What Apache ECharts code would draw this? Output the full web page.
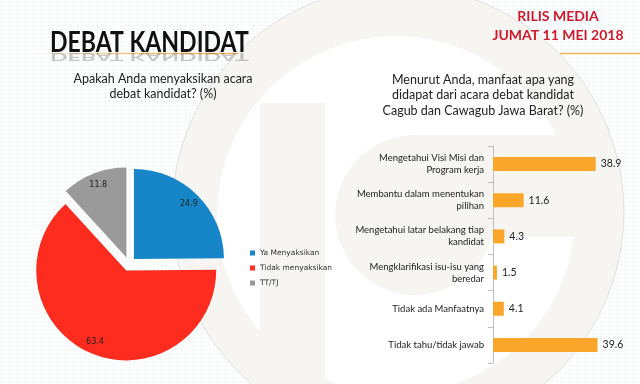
<!DOCTYPE html>
<html><head><meta charset="utf-8">
<script src="https://cdn.jsdelivr.net/npm/echarts@6/dist/echarts.min.js"></script>
<style>html,body{margin:0;padding:0;background:#fff;}#c{width:640px;height:384px;}</style>
</head><body><div id="c"></div>
<script>
// ---- data ----
const pieNames = ['Ya Menyaksikan', 'Tidak menyaksikan', 'TT/TJ'];
const pieValues = [24.9, 63.4, 11.8];
const barCategories = [
  'Mengetahui Visi Misi dan\nProgram kerja',
  'Membantu dalam menentukan\npilihan',
  'Mengetahui latar belakang tiap\nkandidat',
  'Mengklarifikasi isu-isu yang\nberedar',
  'Tidak ada Manfaatnya',
  'Tidak tahu/tidak jawab'
];
const barValues = [38.9, 11.6, 4.3, 1.5, 4.1, 39.6];
const mainTitle = 'DEBAT KANDIDAT';
const releaseText = 'RILIS MEDIA\nJUMAT 11 MEI 2018';
const pieQuestion = 'Apakah Anda menyaksikan acara\ndebat kandidat? (%)';
const barQuestion = 'Menurut Anda, manfaat apa yang\ndidapat dari acara debat kandidat\nCagub dan Cawagub Jawa Barat? (%)';

// ---- styles ----
const pieColors = ['#1786c8', '#fe2b1f', '#9a9a9a'];
const barColor = '#f9a62b';
const discGray = '#f6f5f2';

// dotted background pattern
const pc = document.createElement('canvas');
pc.width = 4; pc.height = 4;
const pctx = pc.getContext('2d');
pctx.fillStyle = '#ffffff'; pctx.fillRect(0, 0, 4, 4);
pctx.fillStyle = '#d3ebf0'; pctx.fillRect(1, 1, 1, 1);

const chart = echarts.init(document.getElementById('c'), null, {renderer: 'canvas'});

const pieData = pieNames.map((n, i) => ({name: n, value: pieValues[i], selected: true, itemStyle: {color: pieColors[i]}}));
const pieLabelData = pieNames.map((n, i) => ({name: n, value: pieValues[i], selected: true}));

const option = {
  animation: false,
  graphic: [
    {type: 'rect', z: -10, silent: true, shape: {x: 0, y: 0, width: 640, height: 384}, style: {fill: {image: pc, repeat: 'repeat'}}},
    {type: 'circle', z: -9, silent: true, shape: {cx: 398, cy: 212, r: 226}, style: {fill: discGray, stroke: '#e2e0dc', lineWidth: 1}},
    {type: 'circle', z: -8, silent: true, shape: {cx: 396, cy: 215, r: 179}, style: {fill: '#ffffff'}},
    {type: 'rect', z: -7, silent: true, shape: {x: 260, y: 103, width: 65, height: 275}, style: {fill: discGray}},
    {type: 'circle', z: -7, silent: true, shape: {cx: 415, cy: 215, r: 80}, style: {fill: discGray}},
    {type: 'rect', z: -7, silent: true, shape: {x: 415, y: 135, width: 165, height: 102}, style: {fill: discGray}},
    // title lines
    {type: 'line', z: 5, silent: true, shape: {x1: 33, y1: 53.5, x2: 238, y2: 53.5},
      style: {lineWidth: 1.5, stroke: {type: 'linear', x: 33, y: 0, x2: 238, y2: 0, global: true,
        colorStops: [{offset: 0, color: 'rgba(242,179,94,0)'}, {offset: 0.5, color: 'rgba(242,179,94,0.8)'}, {offset: 1, color: '#f2b35e'}]}}},
    {type: 'line', z: 5, silent: true, shape: {x1: 560, y1: 53.5, x2: 640, y2: 53.5}, style: {lineWidth: 1.5, stroke: '#f2b35e'}},
    // main title + reflection
    {type: 'text', z: 10, silent: true, x: 50, y: 42.5, scaleX: 0.795,
      style: {text: mainTitle, x: 0, y: 0, align: 'left', verticalAlign: 'middle', fontSize: 29, fontWeight: 'bold', fontFamily: 'Lato', fill: '#111'}},
    {type: 'text', z: 9, silent: true, x: 50, y: 42.5, scaleX: 0.795, scaleY: -0.4, originY: 10.5,
      style: {text: mainTitle, x: 0, y: 0, align: 'left', verticalAlign: 'middle', fontSize: 29, fontWeight: 'bold', fontFamily: 'Lato', fill: 'rgba(0,0,0,0.22)'}},
    // red release text
    {type: 'text', z: 10, silent: true,
      style: {text: releaseText, x: 558, y: 7, align: 'center', verticalAlign: 'top', fontSize: 14, lineHeight: 19, fontWeight: 'bold', fontFamily: 'Lato', fill: '#cf1a2c'}},
    // questions
    {type: 'text', z: 10, silent: true,
      style: {text: pieQuestion, x: 163, y: 71, align: 'center', verticalAlign: 'top', fontSize: 12.5, lineHeight: 15, fontFamily: 'Lato', fill: '#222'}},
    {type: 'text', z: 10, silent: true,
      style: {text: barQuestion, x: 483, y: 72, align: 'center', verticalAlign: 'top', fontSize: 12.5, lineHeight: 15.5, fontFamily: 'Lato', fill: '#222'}}
  ],
  legend: {
    orient: 'vertical', left: 245, top: 244, itemWidth: 5, itemHeight: 5, itemGap: 7, icon: 'rect',
    data: pieNames, selectedMode: false,
    textStyle: {fontSize: 7.5, fontFamily: 'DejaVu Sans', color: '#333'}
  },
  grid: {left: 493, right: 15, top: 146, bottom: 21},
  xAxis: {type: 'value', min: 0, max: 50, show: false},
  yAxis: {
    type: 'category', data: barCategories, inverse: true,
    axisLine: {show: true, lineStyle: {color: '#bfbfbf'}},
    axisTick: {show: true, length: 5, lineStyle: {color: '#bfbfbf'}},
    axisLabel: {fontSize: 9.5, fontFamily: 'Lato', color: '#222', lineHeight: 12, margin: 9}
  },
  series: [
    {
      type: 'pie', name: 'pie', center: [129, 264], radius: [0, 90], startAngle: 90, clockwise: true,
      selectedMode: 'multiple', selectedOffset: 7, emphasis: {disabled: true},
      itemStyle: {borderWidth: 0},
      label: {show: false}, labelLine: {show: false},
      data: pieData
    },
    {
      type: 'pie', name: 'pieLabels', center: [129, 264], radius: [60, 90], startAngle: 90, clockwise: true,
      selectedMode: 'multiple', selectedOffset: 7, emphasis: {disabled: true}, silent: true,
      itemStyle: {color: 'rgba(0,0,0,0)', borderWidth: 0},
      label: {show: true, position: 'inside', formatter: '{c}', fontSize: 8, fontFamily: 'DejaVu Sans', color: '#222'},
      labelLine: {show: false},
      data: pieLabelData
    },
    {
      type: 'bar', data: barValues, barWidth: 14,
      itemStyle: {color: barColor},
      label: {show: true, position: 'right', distance: 5, fontSize: 10.5, fontFamily: 'Lato', color: '#222'}
    }
  ]
};
chart.setOption(option);
</script>
</body></html>
